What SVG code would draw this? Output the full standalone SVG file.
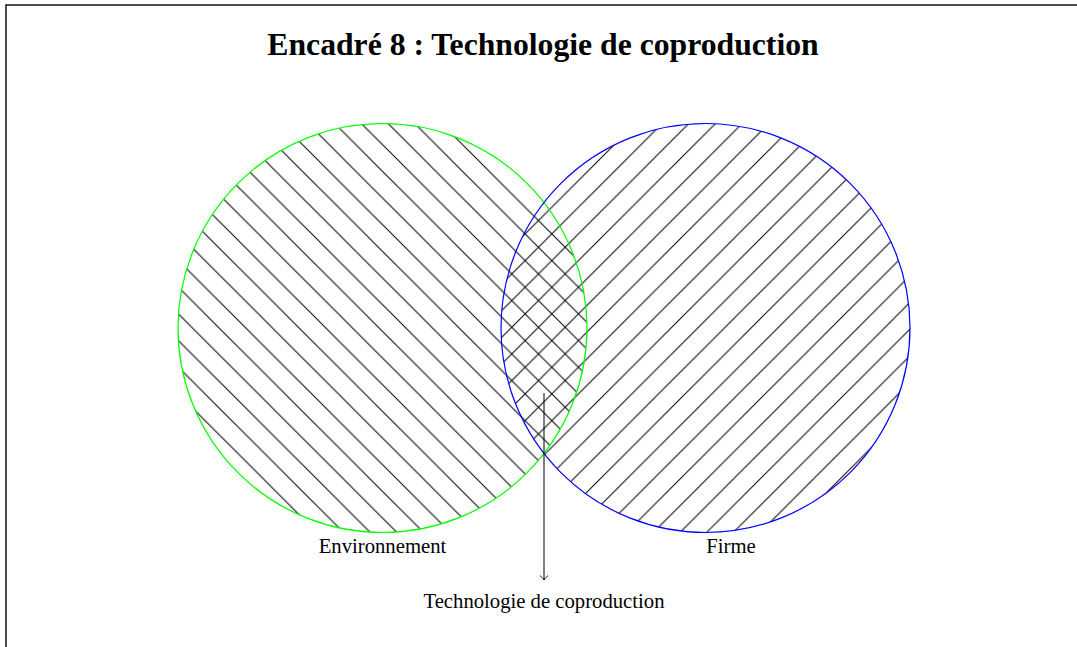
<svg xmlns="http://www.w3.org/2000/svg" width="1077" height="647" viewBox="0 0 1077 647">
  <style>
    .lbl { font-family: "Liberation Serif", "Times New Roman", serif; font-size: 20.7px; fill: #000; text-anchor: middle; }
    .title { font-family: "Liberation Serif", "Times New Roman", serif; font-size: 31.7px; font-weight: bold; fill: #000; text-anchor: middle; }
    .hatch { stroke: #000; stroke-width: 1; fill: none; }
    .conn { stroke: #000; stroke-width: 1; fill: none; }
  </style>
  <defs>
    <pattern id="nwLines" patternUnits="userSpaceOnUse" x="-135.5" y="0" width="26.67" height="26.67">
      <path class="hatch" d="M-2,24.67 L2,28.67 M0,0 L26.67,26.67 M24.67,-2 L28.67,2"/>
    </pattern>
    <pattern id="neLines" patternUnits="userSpaceOnUse" x="-14.4" y="0" width="26.67" height="26.67">
      <path class="hatch" d="M-2,2 L2,-2 M0,26.67 L26.67,0 M24.67,28.67 L28.67,24.67"/>
    </pattern>
    <marker id="arrowTo" viewBox="-6 -6 12 12" markerWidth="12" markerHeight="12" refX="0" refY="0" orient="auto" markerUnits="userSpaceOnUse">
      <path d="M-4.5,-4 Q-1.8,-1 0,0 Q-1.8,1 -4.5,4" fill="none" stroke="#000" stroke-width="0.9"/>
    </marker>
  </defs>

  <rect x="6" y="5" width="1100" height="700" fill="#fff" stroke="#000" stroke-width="1.4"/>

  <g id="title">
    <text class="title" x="543" y="55">Encadré 8 : Technologie de coproduction</text>
  </g>

  <g id="fills">
    <circle cx="382.5" cy="328" r="204.5" fill="url(#nwLines)"/>
    <circle cx="705.5" cy="328" r="204.5" fill="url(#neLines)"/>
  </g>

  <g id="environnement">
    <circle cx="382.5" cy="328" r="204.5" fill="none" stroke="#00ff00" stroke-width="1.2"/>
    <text class="lbl" x="382.5" y="553">Environnement</text>
  </g>

  <g id="firme">
    <circle cx="705.5" cy="328" r="204.5" fill="none" stroke="#0000ff" stroke-width="1.2"/>
    <text class="lbl" x="731" y="553">Firme</text>
  </g>

  <g id="connectors">
    <line class="conn" x1="544" y1="393" x2="544" y2="580" marker-end="url(#arrowTo)"/>
  </g>

  <g id="coproduction">
    <text class="lbl" x="544" y="608">Technologie de coproduction</text>
  </g>
</svg>
